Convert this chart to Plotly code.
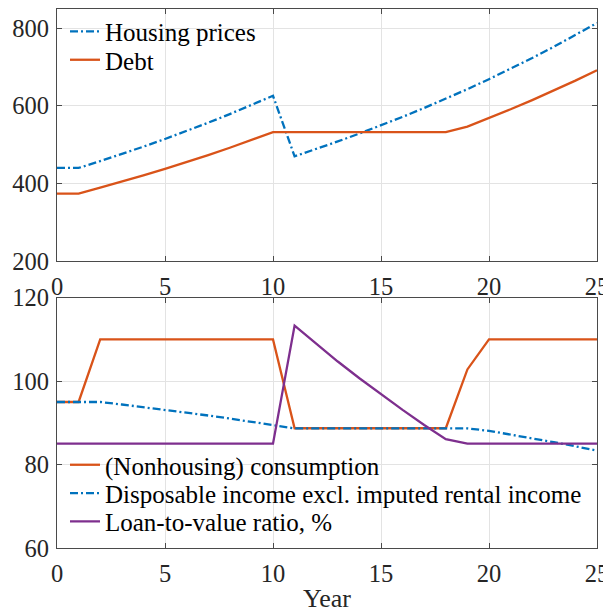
import plotly.graph_objects as go

years = list(range(26))

housing_prices = [440.0, 440.0, 457.6, 475.9, 494.9, 514.7, 535.3, 556.7, 579.0, 602.2,
                  626.2, 470.0, 488.8, 508.4, 528.7, 549.8, 571.8, 594.7, 618.5, 643.2,
                  669.0, 695.7, 723.6, 752.5, 782.6, 813.9]
debt = [374.0, 374.0, 389.0, 404.5, 420.7, 437.5, 455.0, 473.2, 492.2, 511.9,
        532.3, 532.3, 532.3, 532.3, 532.3, 532.3, 532.3, 532.3, 532.3, 546.7,
        568.7, 591.3, 615.1, 639.6, 665.2, 691.8]

consumption = [95.0, 95.0, 110.0, 110.0, 110.0, 110.0, 110.0, 110.0, 110.0, 110.0,
               110.0, 88.7, 88.7, 88.7, 88.7, 88.7, 88.7, 88.7, 88.7, 102.8,
               110.0, 110.0, 110.0, 110.0, 110.0, 110.0]
disposable_income = [95.0, 95.0, 95.0, 94.4, 93.78, 93.13, 92.46, 91.76, 91.03, 90.27,
                     89.48, 88.67, 88.67, 88.67, 88.67, 88.67, 88.67, 88.67, 88.67, 88.67,
                     88.09, 87.21, 86.31, 85.36, 84.38, 83.35]
ltv_ratio = [85.0, 85.0, 85.0, 85.0, 85.0, 85.0, 85.0, 85.0, 85.0, 85.0,
             85.0, 113.3, 108.9, 104.7, 100.7, 96.8, 93.1, 89.5, 86.1, 85.0,
             85.0, 85.0, 85.0, 85.0, 85.0, 85.0]

x_ticks = [0, 5, 10, 15, 20, 25]
top_y_ticks = [200, 400, 600, 800]
bottom_y_ticks = [60, 80, 100, 120]

BLUE = "#0072BD"
ORANGE = "#D95319"
PURPLE = "#7E2F8E"
DASHDOT = "8px,3px,2px,3px"
FONT = "Liberation Serif, Times New Roman, serif"
AXC = "#4a4a4a"
LW = 2.3
LEGFONT = dict(family=FONT, size=25, color="#000000")

# figure pixel geometry (page body adds an 8px offset)
W, H = 603, 605
ML, MR, MT, MB = 49, 14, 1, 65
PH = H - MT - MB


def ypaper(win_y):
    fy = win_y - 8
    return (H - MB - fy) / PH


def xpaper(win_x):
    fx = win_x - 8
    return (fx - ML) / (W - ML - MR)


fig = go.Figure()
fig.add_trace(go.Scatter(x=years, y=housing_prices, mode="lines", name="Housing prices",
                         line=dict(color=BLUE, width=LW, dash=DASHDOT),
                         xaxis="x", yaxis="y", legend="legend"))
fig.add_trace(go.Scatter(x=years, y=debt, mode="lines", name="Debt",
                         line=dict(color=ORANGE, width=LW),
                         xaxis="x", yaxis="y", legend="legend2"))
fig.add_trace(go.Scatter(x=years, y=consumption, mode="lines", name="(Nonhousing) consumption",
                         line=dict(color=ORANGE, width=LW),
                         xaxis="x2", yaxis="y2", legend="legend3"))
fig.add_trace(go.Scatter(x=years, y=disposable_income, mode="lines",
                         name="Disposable income excl. imputed rental income",
                         line=dict(color=BLUE, width=LW, dash=DASHDOT),
                         xaxis="x2", yaxis="y2", legend="legend4"))
fig.add_trace(go.Scatter(x=years, y=ltv_ratio, mode="lines", name="Loan-to-value ratio, %",
                         line=dict(color=PURPLE, width=LW),
                         xaxis="x2", yaxis="y2", legend="legend5"))

axis_common = dict(showline=True, linecolor=AXC, linewidth=1, mirror="ticks",
                   ticks="inside", ticklen=5, tickcolor=AXC, tickwidth=1,
                   showgrid=True, gridcolor="#e3e3e3", gridwidth=1, zeroline=False,
                   automargin=False,
                   tickfont=dict(family=FONT, size=24.5, color="#262626"))


def leg(win_y):
    return dict(x=xpaper(65), y=ypaper(win_y), xanchor="left", yanchor="middle",
                bgcolor="rgba(0,0,0,0)", borderwidth=0, font=LEGFONT)


fig.update_layout(
    width=W, height=H,
    margin=dict(l=ML, r=MR, t=MT, b=MB, autoexpand=False),
    paper_bgcolor="white", plot_bgcolor="white",
    font=dict(family=FONT, size=24, color="#262626"),
    showlegend=True,
    xaxis=dict(domain=[0, 1], anchor="y", range=[0, 25], tickvals=x_ticks,
               ticklabelstandoff=4, **axis_common),
    yaxis=dict(domain=[ypaper(261), 1], anchor="x", range=[200, 850], tickvals=top_y_ticks,
               ticklabelstandoff=2, **axis_common),
    xaxis2=dict(domain=[0, 1], anchor="y2", range=[0, 25], tickvals=x_ticks,
                ticklabelstandoff=4,
                title=dict(text="Year", font=dict(family=FONT, size=26, color="#262626"),
                           standoff=10),
                **axis_common),
    yaxis2=dict(domain=[0, ypaper(297.7)], anchor="x2", range=[60, 120],
                tickvals=bottom_y_ticks, ticklabelstandoff=2, **axis_common),
    legend=leg(31.7),
    legend2=leg(60.0),
    legend3=leg(465.0),
    legend4=leg(493.3),
    legend5=leg(521.7),
)

fig.write_html("out.html")
